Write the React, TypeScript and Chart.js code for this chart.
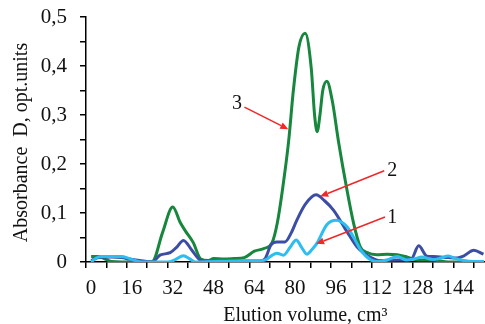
import React, { useEffect, useRef } from 'react';
import { Chart, registerables } from 'chart.js';

Chart.register(...registerables);

// ---- Data (elution volume, cm³ ; absorbance D) ----
const volume1 = [0, 2, 4, 8, 12, 14.5, 17.3, 20, 24, 30, 33, 36.2, 38.5, 40.8, 48, 56, 64, 68.2, 70.5, 72.8, 75.4, 78, 80.4, 82.5, 84.6, 86.5, 88.5, 92.4, 96, 100.3, 101.6, 104.2, 105.5, 109.4, 112, 116, 120, 123.8, 126.5, 129.7, 134, 137, 140, 143, 146, 150, 154];
const absorb1 = [0, 0.008, 0.011, 0.011, 0.011, 0.008, 0.003, 0, 0, 0, 0.005, 0.013, 0.007, 0, 0.001, 0.002, 0.002, 0.004, 0.012, 0.018, 0.014, 0.03, 0.045, 0.03, 0.016, 0.025, 0.038, 0.076, 0.085, 0.072, 0.062, 0.038, 0.026, 0.005, 0.001, 0.004, 0.011, 0.004, 0.006, 0.01, 0.005, 0.008, 0.012, 0.007, 0.003, 0.001, 0.001];

const volume2 = [0, 3, 8, 12, 15, 19, 24, 27, 31, 33.5, 36.2, 39.5, 42.7, 46, 52, 60, 66, 68.2, 70.5, 72.8, 76, 78.5, 80.7, 84, 88.2, 91.5, 95, 100.3, 104.2, 107, 109.4, 113.3, 120, 125.5, 128.4, 131.6, 134.2, 140, 143.4, 146, 150, 153.8];
const absorb2 = [0.003, 0.009, 0.01, 0.009, 0.006, 0.003, 0, 0.014, 0.019, 0.03, 0.044, 0.024, 0.004, 0.001, 0.002, 0.002, 0.002, 0.007, 0.035, 0.041, 0.041, 0.06, 0.086, 0.118, 0.137, 0.125, 0.106, 0.062, 0.031, 0.018, 0.01, 0.003, 0.004, 0.006, 0.033, 0.012, 0.011, 0.009, 0.008, 0.012, 0.024, 0.016];

const volume3 = [0, 3, 6, 8, 12, 16, 20, 24, 28, 32, 35, 37, 40, 43, 46, 48, 52, 56, 60, 64, 68, 71, 73, 75, 77.4, 79.3, 81.5, 83.9, 86.3, 87.6, 88.6, 89.7, 90.8, 92.4, 94.5, 97, 100.3, 102.9, 105.5, 108, 112, 116, 120, 124, 128, 134, 140, 148, 154];
const absorb3 = [0.011, 0.011, 0.005, 0.001, 0, 0, 0, 0.001, 0.06, 0.112, 0.08, 0.063, 0.04, 0.006, 0.003, 0.007, 0.006, 0.007, 0.009, 0.022, 0.028, 0.04, 0.08, 0.147, 0.245, 0.351, 0.44, 0.467, 0.395, 0.3, 0.266, 0.3, 0.35, 0.369, 0.33, 0.245, 0.147, 0.079, 0.031, 0.02, 0.015, 0.016, 0.015, 0.01, 0.004, 0.004, 0, 0, 0];

const seriesNames = ['1', '2', '3'];
const xLabelStep = 16;
const xTickStep = 8;
const yTickStep = 0.05;
const yLabelStep = 0.1;
const yTitle = 'Absorbance  D, opt.units';
const xTitle = 'Elution volume, cm\u00B3';

// curve labels with arrows, in data units: text anchor, arrow start, arrow tip
const labelX = [118.0, 118.0, 57.2];
const labelY = [0.08, 0.175, 0.312];
const arrowFromX = [115.2, 114.9, 60.1];
const arrowFromY = [0.092, 0.186, 0.316];
const arrowToX = [88.2, 89.8, 77.3];
const arrowToY = [0.037, 0.134, 0.271];

const FONT = '"Liberation Serif", "Times New Roman", serif';

const toPoints = (xs: number[], ys: number[]) => xs.map((x, i) => ({ x, y: ys[i] }));

const overlayPlugin = {
  id: 'overlay',
  afterDraw(chart: any) {
    const { ctx, chartArea, scales } = chart;
    const xs = scales.x;
    const ys = scales.y;
    ctx.save();
    ctx.fillStyle = '#111';
    // axis titles
    ctx.font = `20px ${FONT}`;
    ctx.textAlign = 'center';
    ctx.textBaseline = 'alphabetic';
    ctx.fillText(xTitle, xs.getPixelForValue(84), chartArea.bottom + 59);
    ctx.save();
    ctx.translate(chartArea.left - 59, (chartArea.top + chartArea.bottom) / 2 + 3);
    ctx.rotate(-Math.PI / 2);
    ctx.fillText(yTitle, 0, 0);
    ctx.restore();

    // curve labels and arrows
    for (let i = 0; i < seriesNames.length; i++) {
      ctx.fillStyle = '#111';
      ctx.font = `20px ${FONT}`;
      ctx.textAlign = 'center';
      ctx.fillText(seriesNames[i], xs.getPixelForValue(labelX[i]), ys.getPixelForValue(labelY[i]));
      const x0 = xs.getPixelForValue(arrowFromX[i]);
      const y0 = ys.getPixelForValue(arrowFromY[i]);
      const x1 = xs.getPixelForValue(arrowToX[i]);
      const y1 = ys.getPixelForValue(arrowToY[i]);
      const ang = Math.atan2(y1 - y0, x1 - x0);
      const hl = 8;
      const hw = 3.5;
      const bx = x1 - hl * Math.cos(ang);
      const by = y1 - hl * Math.sin(ang);
      ctx.strokeStyle = '#f0282a';
      ctx.fillStyle = '#f0282a';
      ctx.lineWidth = 1.6;
      ctx.beginPath();
      ctx.moveTo(x0, y0);
      ctx.lineTo(bx, by);
      ctx.stroke();
      ctx.beginPath();
      ctx.moveTo(x1, y1);
      ctx.lineTo(bx + hw * Math.sin(ang), by - hw * Math.cos(ang));
      ctx.lineTo(bx - hw * Math.sin(ang), by + hw * Math.cos(ang));
      ctx.closePath();
      ctx.fill();
    }
    ctx.restore();
  },
};

export default function App() {
  const ref = useRef<HTMLCanvasElement | null>(null);
  useEffect(() => {
    document.body.style.margin = '0';
    const canvas = ref.current;
    if (!canvas) return;
    const lineOpts = {
      borderWidth: 3,
      pointRadius: 0,
      fill: false,
      cubicInterpolationMode: 'monotone' as const,
    };
    const chart = new Chart(canvas, {
      type: 'line',
      data: {
        datasets: [
          { label: seriesNames[0], data: toPoints(volume1, absorb1), borderColor: '#2dbdf0', ...lineOpts },
          { label: seriesNames[1], data: toPoints(volume2, absorb2), borderColor: '#3b4ea4', ...lineOpts },
          { label: seriesNames[2], data: toPoints(volume3, absorb3), borderColor: '#17873d', ...lineOpts },
        ],
      },
      options: {
        responsive: false,
        animation: false,
        devicePixelRatio: 1,
        layout: { padding: { top: 17, right: 0, left: 0, bottom: 0 } },
        plugins: { legend: { display: false }, tooltip: { enabled: false } },
        scales: {
          x: {
            type: 'linear',
            min: -2,
            max: 154.4,
            afterBuildTicks: (s: any) => {
              const t = [];
              for (let v = -2; v <= 154; v += xTickStep) t.push({ value: v });
              s.ticks = t;
            },
            afterFit: (s: any) => {
              s.height = 62;
              s.paddingLeft = 0;
              s.paddingRight = 0;
              s.paddingTop = 0;
              s.paddingBottom = 0;
            },
            ticks: {
              autoSkip: false,
              maxRotation: 0,
              labelOffset: 5,
              padding: 8,
              color: '#111',
              font: { family: FONT, size: 21 },
              callback: (v: any) => ((Number(v) + 2) % xLabelStep === 0 ? String(Number(v) + 2) : ''),
            },
            grid: { drawOnChartArea: false, drawTicks: true, tickLength: 6, color: '#000', lineWidth: 1.5 },
            border: { display: true, color: '#000', width: 1.5 },
          },
          y: {
            type: 'linear',
            min: 0,
            max: 0.5,
            afterBuildTicks: (s: any) => {
              const t = [];
              for (let k = 0; k <= Math.round(0.5 / yTickStep); k++) t.push({ value: k * yTickStep });
              s.ticks = t;
            },
            afterFit: (s: any) => {
              s.width = 86;
              s.paddingLeft = 0;
              s.paddingRight = 0;
              s.paddingTop = 0;
              s.paddingBottom = 0;
            },
            ticks: {
              autoSkip: false,
              padding: 13,
              color: '#111',
              font: { family: FONT, size: 21 },
              callback: (v: any) => {
                const k = Math.round(Number(v) / yTickStep);
                const per = Math.round(yLabelStep / yTickStep);
                if (k % per !== 0) return '';
                return k === 0 ? '0' : (k * yTickStep).toFixed(1).replace('.', ',');
              },
            },
            grid: { drawOnChartArea: false, drawTicks: true, tickLength: 6, color: '#000', lineWidth: 1.5 },
            border: { display: true, color: '#000', width: 1.5 },
          },
        },
      },
      plugins: [overlayPlugin],
    });
    return () => chart.destroy();
  }, []);
  return (
    <div style={{ position: 'absolute', left: 0, top: 0, width: 485, height: 324, background: '#fff' }}>
      <canvas ref={ref} width={485} height={324} style={{ display: 'block' }} />
    </div>
  );
}
